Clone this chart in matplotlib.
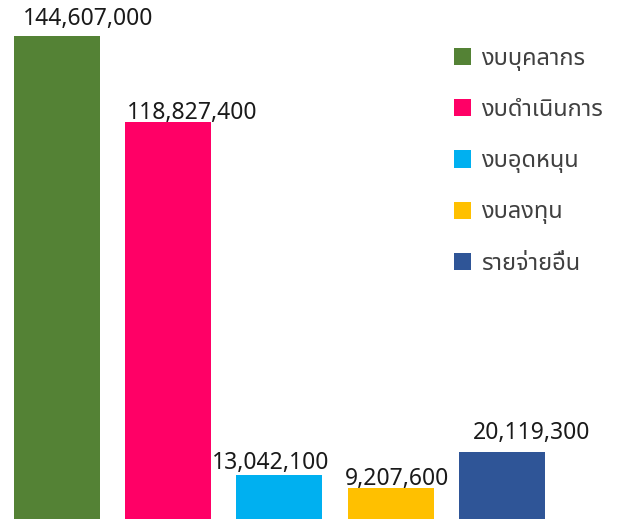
import matplotlib
matplotlib.use("Agg")
import matplotlib.pyplot as plt
from matplotlib.patches import Patch

categories = ["งบบุคลากร", "งบดำเนินการ", "งบอุดหนุน", "งบลงทุน", "รายจ่ายอื่น"]
values = [144607000, 118827400, 13042100, 9207600, 20119300]
colors = ["#548235", "#FF0066", "#00B0F0", "#FFC000", "#2F5597"]

# label placement offsets in pixels (dx, dy above bar top)
label_dx = [31, 24, -9, 6, 30]
label_dy = [11, 3, 6, 3, 13]

FONT = ["Noto Sans Thai", "Noto Sans", "DejaVu Sans"]
plt.rcParams['font.family'] = FONT

fig = plt.figure(figsize=(6.24, 5.19), dpi=100)
ax = fig.add_axes([0, 0, 1, 1])
x = list(range(len(values)))
bars = ax.bar(x, values, width=0.773, color=colors)
ax.set_xlim(-0.512, 5.097)
ax.set_ylim(0, 155.39e6)
ax.axis('off')

for xi, v, dx, dy in zip(x, values, label_dx, label_dy):
    ax.annotate(f"{v:,}", (xi, v), xytext=(dx, dy), textcoords='offset pixels',
                ha='center', va='baseline', fontsize=16.5, color='#1a1a1a')

handles = [Patch(facecolor=c, edgecolor='none') for c in colors]
fig.legend(handles, categories, loc='upper left', bbox_to_anchor=(454/624, 1 - 47/519),
           frameon=False, fontsize=17, handlelength=0.74, handleheight=0.74,
           handletextpad=0.4, labelspacing=1.15, borderpad=0, borderaxespad=0,
           labelcolor='#404040')

fig.savefig("out.png")
